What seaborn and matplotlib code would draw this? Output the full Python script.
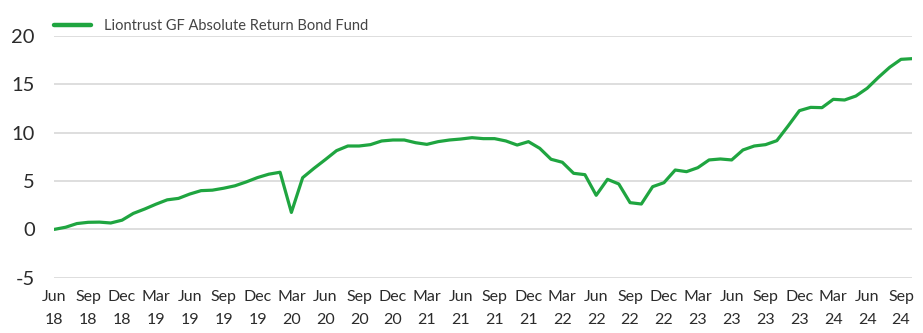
import matplotlib
matplotlib.use("Agg")
import matplotlib.pyplot as plt
import pandas as pd
import seaborn as sns

# Cumulative performance (%), monthly from Jun 2018 to Oct 2024
months = pd.date_range("2018-06-01", "2024-10-01", freq="MS")
fund_name = "Liontrust GF Absolute Return Bond Fund"
fund_values = [
    0.0, 0.22, 0.6, 0.73, 0.75, 0.66, 0.95,
    1.65, 2.1, 2.6, 3.05, 3.2, 3.65, 4.0, 4.05, 4.25, 4.5, 4.9, 5.35,
    5.7, 5.9, 1.75, 5.34, 6.3, 7.2, 8.13, 8.61, 8.61, 8.75, 9.13, 9.23,
    9.23, 8.95, 8.78, 9.06, 9.23, 9.33, 9.47, 9.37, 9.37, 9.13, 8.71, 9.06,
    8.37, 7.24, 6.93, 5.79, 5.65, 3.52, 5.17, 4.69, 2.76, 2.62, 4.41, 4.82,
    6.13, 5.96, 6.37, 7.17, 7.27, 7.17, 8.2, 8.61, 8.75, 9.16, 10.68, 12.26,
    12.6, 12.57, 13.43, 13.36, 13.77, 14.57, 15.7, 16.74, 17.56, 17.63,
]
y_ticks = [-5, 0, 5, 10, 15, 20]

df = pd.DataFrame({"idx": range(len(months)), "value": fund_values, "series": fund_name})
tick_idx = list(range(0, len(months), 3))
tick_labels = [f"{months[i]:%b}\n{months[i]:%y}" for i in tick_idx]

sns.set_theme(style="white")
plt.rcParams["font.family"] = ["Lato", "DejaVu Sans"]

fig = plt.figure(figsize=(9.23, 3.33), dpi=100)
W, H = 923, 333
left, right = 54.3 / W, 912.3 / W
bottom, top = 1 - 277.8 / H, 1 - 35.7 / H
ax = fig.add_axes([left, bottom, right - left, top - bottom])

sns.lineplot(data=df, x="idx", y="value", hue="series", palette=["#1fa540"],
             linewidth=2.3, ax=ax, zorder=3)

ax.set_xlim(0, len(months) - 1)
ax.set_ylim(-5, 20)
ax.set_yticks(y_ticks)
ax.set_yticklabels([str(v) for v in y_ticks])
ax.set_xticks(tick_idx)
ax.set_xticklabels(tick_labels, linespacing=1.75)
ax.set_xlabel("")
ax.set_ylabel("")

ax.grid(axis="y", color="#d4d4d4", linewidth=1.1, zorder=0)
ax.grid(axis="x", visible=False)
for s in ax.spines.values():
    s.set_visible(False)

ax.tick_params(axis="y", length=0, pad=14, labelsize=14.5, labelcolor="#2b2b2b")
ax.tick_params(axis="x", length=0, pad=9, labelsize=11.5, labelcolor="#2b2b2b")

leg = ax.legend(loc="lower left", bbox_to_anchor=(0.0, 1.01), frameon=False,
                handlelength=2.55, handletextpad=0.85, borderaxespad=0, borderpad=0,
                prop={"size": 10.5})
for t in leg.get_texts():
    t.set_color("#444444")
for h in leg.get_lines():
    h.set_linewidth(3.2)

fig.savefig("out.png", dpi=100)
